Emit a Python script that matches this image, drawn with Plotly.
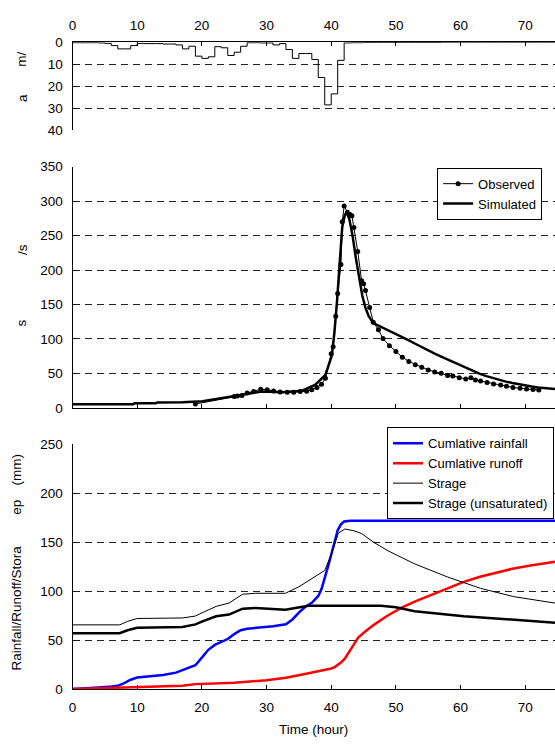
import plotly.graph_objects as go

# ---------------- data ----------------
rain_hours = list(range(0, 76))
rain_mm = [
    0.2, 0.2, 0.2, 0.2, 0.3, 0.5, 1.5, 3.0, 3.0, 1.5,
    0.5, 0.6, 0.6, 0.6, 0.8, 0.8, 1.2, 3.0, 1.8, 6.3,
    7.3, 6.6, 2.0, 2.5, 6.0, 4.5, 1.8, 0.2, 0.2, 0.3,
    0.3, 1.2, 0.6, 3.3, 7.3, 5.1, 5.1, 7.8, 16.0, 28.4,
    23.4, 8.2, 0.3, 0.2, 0.2, 0.1, 0.1, 0.1, 0.1, 0.1,
    0.1, 0.1, 0.1, 0.1, 0.1, 0.1, 0.1, 0.0, 0.0, 0.0,
    0.0, 0.0, 0.0, 0.0, 0.0, 0.0, 0.0, 0.0, 0.0, 0.0,
    0.0, 0.0, 0.0, 0.0, 0.0, 0.0,
]

obs_t = [19.0, 25.0, 25.5, 26.2, 27.0, 28.0, 29.1, 30.1, 31.1, 32.1, 33.2, 34.2,
         35.2, 36.2, 37.0, 37.8, 38.5, 39.1, 40.0, 40.3, 40.7, 41.0, 41.5, 41.7,
         42.0, 42.5, 42.9, 43.2, 43.5, 44.1, 44.7, 45.0, 45.3, 45.95, 46.5, 47.3,
         48.0, 49.0, 50.0, 51.0, 52.0, 53.0, 54.0, 55.0, 56.0, 57.0, 58.0, 58.8,
         59.8, 60.8, 61.6, 62.3, 63.1, 64.1, 65.1, 66.2, 67.1, 68.1, 69.2, 70.2,
         71.2, 72.1]
obs_q = [5.5, 16.5, 17.0, 18.0, 21.4, 23.8, 27.0, 26.2, 24.5, 23.0, 22.4, 22.4,
         23.8, 24.0, 26.2, 29.5, 34.3, 42.8, 78.5, 88.7, 132.8, 166.0, 208.0, 270.0,
         293.0, 284.0, 280.7, 279.0, 261.8, 227.0, 184.5, 180.0, 170.2, 145.6, 124.3, 113.3,
         100.5, 90.1, 81.6, 73.5, 67.3, 62.6, 59.0, 55.0, 52.0, 50.0, 47.0, 46.3,
         43.7, 41.7, 43.7, 40.3, 38.8, 36.9, 34.5, 33.0, 31.1, 29.6, 28.2, 27.2,
         26.7, 25.7]

sim_t = [0, 9.4, 9.6, 12.9, 13.1, 17.0, 20.1, 23.2, 26.3, 29.3, 32.4, 35.5, 37.5,
         39.1, 40.1, 40.5, 40.9, 41.3, 41.7, 42.1, 42.4, 42.8, 43.3, 43.8, 44.3,
         44.8, 45.3, 45.8, 46.5, 47.3, 48.0, 49.0, 50.0, 51.0, 52.0, 53.0, 54.0,
         55.0, 56.0, 57.0, 58.0, 59.0, 60.0, 61.0, 62.0, 63.0, 64.0, 65.0, 66.0,
         67.0, 68.0, 69.0, 70.0, 71.0, 72.0, 73.0, 74.6]
sim_q = [5.0, 5.0, 6.5, 6.5, 7.8, 8.0, 9.5, 14.3, 20.0, 23.8, 22.4, 24.8, 33.3,
         47.6, 76.0, 110.0, 155.0, 215.0, 262.0, 280.0, 283.0, 274.0, 250.0, 218.0, 188.0,
         163.0, 145.0, 133.0, 123.0, 119.5, 116.0, 111.5, 107.0, 102.5, 98.0, 93.0, 88.0,
         83.0, 78.5, 74.3, 70.0, 65.5, 61.0, 57.0, 53.0, 49.3, 46.0, 43.0, 40.5,
         38.0, 36.0, 34.0, 32.3, 30.8, 29.5, 28.4, 27.2]

cr_t = [0, 2, 4, 6, 7, 8, 9, 10, 12, 14, 16, 17, 18, 19, 20, 21, 22, 23, 24, 25,
        26, 27, 29, 31, 33, 34, 35, 36, 37, 38, 38.5, 39, 39.5, 40, 40.5, 41,
        41.5, 42, 43, 74.6]
cr_v = [0, 0.5, 1.5, 2.5, 3.3, 6.0, 9.5, 11.7, 12.7, 14.3, 16.7, 19.0, 21.5, 24.3,
        32.0, 40.0, 45.0, 48.0, 51.0, 56.0, 60.0, 61.5, 62.5, 64.0, 66.0, 71.0,
        78.0, 84.0, 88.0, 95.0, 102.0, 112.7, 125.0, 137.0, 150.0, 162.0, 168.0,
        171.0, 171.7, 171.7]

ro_t = [0, 5, 9, 10, 17, 19, 25, 30, 33, 36.5, 38, 39, 40, 40.6, 41.5, 42.1, 43,
        44.2, 45.5, 46.7, 48.5, 50.8, 53, 55.4, 58, 60.5, 63, 65.7, 68, 70.8, 74.6]
ro_v = [0, 1.0, 2.0, 2.5, 3.3, 5.0, 6.5, 9.0, 11.5, 16.0, 18.0, 19.5, 21.0, 22.7,
        27.0, 31.0, 40.0, 52.7, 60.0, 66.0, 74.0, 82.7, 89.5, 96.0, 103.0, 109.3,
        114.5, 119.3, 122.7, 126.0, 130.0]

st_t = [0, 7.3, 8.5, 10, 17, 19, 20, 21, 22.2, 24.2, 25, 26.3, 28.3, 32.9, 35,
        37.5, 39, 40.1, 41.1, 42.1, 43.5, 44.7, 46.5, 48.8, 52.9, 58, 63.1, 68.2, 74.6]
st_v = [65.5, 65.5, 69.0, 72.0, 72.5, 74.5, 77.7, 81.0, 84.3, 87.7, 91.0, 96.7,
        97.7, 97.7, 104.3, 114.3, 121.0, 139.0, 159.0, 163.3, 161.5, 158.7, 150.0,
        141.0, 127.7, 114.3, 102.7, 94.3, 87.7]

su_t = [0, 7.3, 8.5, 10, 17, 19, 20, 22.2, 24.2, 26.3, 28.3, 30, 32.9, 36.5, 47.7,
        50, 52.9, 60.5, 68.2, 74.6]
su_v = [57.0, 57.0, 60.0, 62.5, 63.3, 66.0, 68.7, 74.3, 76.0, 82.0, 82.7, 82.0,
        81.0, 85.0, 85.0, 83.5, 79.3, 74.3, 70.3, 67.7]

x_ticks = [0, 10, 20, 30, 40, 50, 60, 70]

# ---------------- figure ----------------
W, H = 555, 747
FONT = "Liberation Sans, Arial, sans-serif"
FS = 13.5
LFS = 13


def px_x(p):
    return p / W


def px_y(p):
    return 1 - p / H


fig = go.Figure()

fig.add_trace(go.Scatter(x=rain_hours, y=rain_mm, mode="lines", line=dict(color="black", width=1, shape="hv"),
                         xaxis="x", yaxis="y", showlegend=False))

fig.add_trace(go.Scatter(x=obs_t, y=obs_q, mode="lines+markers", name="Observed",
                         line=dict(color="black", width=1), marker=dict(color="black", size=5),
                         xaxis="x2", yaxis="y2", legend="legend"))
fig.add_trace(go.Scatter(x=sim_t, y=sim_q, mode="lines", name="Simulated",
                         line=dict(color="black", width=2.5),
                         xaxis="x2", yaxis="y2", legend="legend"))

fig.add_trace(go.Scatter(x=cr_t, y=cr_v, mode="lines", name="Cumlative rainfall",
                         line=dict(color="#0000ff", width=2.5), xaxis="x3", yaxis="y3", legend="legend2"))
fig.add_trace(go.Scatter(x=ro_t, y=ro_v, mode="lines", name="Cumlative runoff",
                         line=dict(color="#ff0000", width=2.5), xaxis="x3", yaxis="y3", legend="legend2"))
fig.add_trace(go.Scatter(x=st_t, y=st_v, mode="lines", name="Strage",
                         line=dict(color="black", width=1), xaxis="x3", yaxis="y3", legend="legend2"))
fig.add_trace(go.Scatter(x=su_t, y=su_v, mode="lines", name="Strage (unsaturated)",
                         line=dict(color="black", width=2.5), xaxis="x3", yaxis="y3", legend="legend2"))

xdom = [px_x(69), 1.0]
xrange_ = [0, 74.6]
grid = dict(showgrid=True, gridcolor="#222", gridwidth=1, griddash="7px,5px")
yax_common = dict(showline=True, linecolor="black", linewidth=1, zeroline=False,
                  ticks="inside", ticklen=3, tickcolor="black",
                  tickfont=dict(family=FONT, size=FS, color="black"), ticklabelstandoff=6, **grid)
xax_common = dict(domain=xdom, range=xrange_, showgrid=False, zeroline=False, showline=True,
                  linecolor="black", linewidth=1, ticks="inside", ticklen=4, tickcolor="black",
                  tickvals=x_ticks, tickfont=dict(family=FONT, size=FS, color="black"))

fig.update_layout(
    width=W, height=H, margin=dict(l=0, r=0, t=0, b=0),
    paper_bgcolor="white", plot_bgcolor="white",
    font=dict(family=FONT, size=FS, color="black"),
    xaxis=dict(anchor="y", side="top", showticklabels=True, ticklabelstandoff=6, **xax_common),
    yaxis=dict(domain=[px_y(126), px_y(36)], range=[40, 0], tickvals=[0, 10, 20, 30, 40], **yax_common),
    xaxis2=dict(anchor="y2", showticklabels=False, **xax_common),
    yaxis2=dict(domain=[px_y(409), px_y(163)], range=[0, 350], tickvals=list(range(0, 351, 50)), **yax_common),
    xaxis3=dict(anchor="y3", showticklabels=True, ticklabelstandoff=6, **xax_common),
    yaxis3=dict(domain=[px_y(696), px_y(446)], range=[0, 250], tickvals=list(range(0, 251, 50)), **yax_common),
    legend=dict(x=px_x(542), y=px_y(164), xanchor="right", yanchor="top",
                bordercolor="black", borderwidth=1, bgcolor="white",
                font=dict(family=FONT, size=LFS, color="black"), itemwidth=30,
                tracegroupgap=0),
    legend2=dict(x=px_x(554), y=px_y(429), xanchor="right", yanchor="top",
                 bordercolor="black", borderwidth=1, bgcolor="white",
                 font=dict(family=FONT, size=LFS, color="black"), itemwidth=30,
                 tracegroupgap=0),
)

ann = [
    ("m/", 18, 53), ("a", 18, 93),
    ("/s", 18, 247), ("s", 18, 322),
    ("(mm)", 13, 472), ("ep", 13, 510), ("Rainfall/Runoff/Stora", 13, 613),
]
for txt, ax_, ay_ in ann:
    fig.add_annotation(text=txt, x=px_x(ax_), y=px_y(ay_), xref="paper", yref="paper",
                       xanchor="center", yanchor="middle",
                       showarrow=False, textangle=-90, font=dict(family=FONT, size=FS, color="black"))
fig.add_annotation(text="Time (hour)", x=px_x(312), y=px_y(737), xref="paper", yref="paper",
                   xanchor="center", yanchor="middle",
                   showarrow=False, font=dict(family=FONT, size=FS, color="black"))

fig.write_html("out.html")
